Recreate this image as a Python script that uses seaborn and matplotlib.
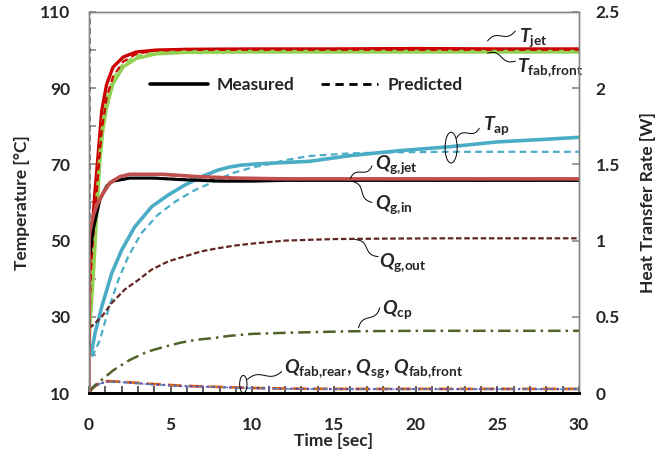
import numpy as np
import pandas as pd
import matplotlib
matplotlib.use("Agg")
import matplotlib.pyplot as plt
import seaborn as sns
from matplotlib.patches import Ellipse
from matplotlib.lines import Line2D
from matplotlib.ticker import MultipleLocator

# ---- data (time in s) ----
# temperatures [°C], left axis
t_jet_meas = [0, 0.05, 0.16, 0.35, 0.57, 0.78, 1.08, 1.47, 2.1, 2.9, 4.1, 6, 10, 15, 20, 25, 30]
T_jet_meas = [22, 40, 50, 62, 73, 84, 91, 95.5, 98.2, 99.5, 100, 100.2, 100.3, 100.3, 100.4, 100.3, 100.3]
t_jet_pred = [0, 0.05, 0.16, 0.35, 0.57, 0.78, 1.08, 1.47, 2.1, 2.9, 4.1, 6, 10, 30]
T_jet_pred = [22, 35, 45, 56, 68, 79, 87.5, 93, 97, 99, 99.9, 100.1, 100.1, 100.1]

t_fab_meas = [0, 0.05, 0.16, 0.3, 0.45, 0.67, 0.85, 1.08, 1.47, 2.1, 2.9, 4.1, 6, 10, 30]
T_fab_meas = [20, 27, 34, 43, 55, 71, 79, 85, 91.2, 95.6, 97.8, 99, 99.4, 99.5, 99.5]
t_fab_pred = [0, 0.05, 0.16, 0.3, 0.45, 0.67, 0.85, 1.08, 1.47, 2.1, 2.9, 4.1, 6, 10, 30]
T_fab_pred = [20, 30, 40, 50, 61, 75, 82, 87.5, 92.8, 96.5, 98.5, 99.4, 99.7, 99.8, 99.8]

t_ap_meas = [0.15, 0.37, 0.78, 1.39, 2.0, 2.8, 3.84, 4.86, 5.88, 6.9, 7.9, 8.6, 9.3, 10.2, 11.5, 13.5, 16, 19, 22, 25, 28, 30]
T_ap_meas = [20.5, 25.7, 32.6, 41.4, 47.5, 53.6, 58.9, 62.0, 64.6, 66.8, 68.5, 69.3, 69.8, 70.1, 70.4, 70.8, 72.3, 73.6, 74.6, 75.9, 76.6, 77.1]
t_ap_pred = [0.2, 0.67, 1.18, 1.8, 2.4, 3.2, 4.2, 5.27, 6.5, 7.9, 8.7, 10, 11.2, 12, 13.5, 16, 19, 22, 30]
T_ap_pred = [19.5, 23.9, 31.8, 39.7, 45.8, 51.9, 56.7, 60.2, 63.3, 65.9, 67.6, 69.2, 70.2, 71.1, 72.2, 72.9, 73.2, 73.3, 73.3]

# heat transfer rates [W], right axis
t_gin = [0, 0.01, 0.05, 0.25, 0.47, 0.86, 1.29, 1.9, 2.5, 4.5, 6.6, 9, 12, 30]
Q_gin = [0, 1.0, 1.05, 1.16, 1.23, 1.31, 1.38, 1.42, 1.435, 1.435, 1.42, 1.41, 1.405, 1.405]
t_gjet = [0.05, 0.25, 0.67, 1.1, 1.47, 2.5, 4, 5.6, 8, 10, 12, 15, 30]
Q_gjet = [0.9, 1.07, 1.27, 1.36, 1.39, 1.41, 1.41, 1.40, 1.39, 1.39, 1.395, 1.395, 1.395]
t_gjet_pred = [0.03, 0.03, 0.25, 0.67, 1.1, 1.47, 2.5, 4, 8, 30]
Q_gjet_pred = [2.7, 0.92, 1.07, 1.27, 1.36, 1.39, 1.41, 1.41, 1.395, 1.395]
t_gout = [0.05, 0.16, 0.78, 1.39, 2.2, 3.0, 3.84, 4.86, 5.88, 6.9, 7.9, 8.9, 9.96, 12, 15, 18, 22, 30]
Q_gout = [0.45, 0.436, 0.50, 0.59, 0.68, 0.74, 0.81, 0.864, 0.897, 0.93, 0.95, 0.967, 0.98, 1.0, 1.01, 1.013, 1.015, 1.015]
t_cp = [0, 0.25, 1.5, 2.5, 3.55, 4.5, 5.6, 6.6, 7.6, 8.6, 10, 12, 14, 16, 20, 30]
Q_cp = [0.0, 0.04, 0.15, 0.217, 0.27, 0.30, 0.33, 0.35, 0.36, 0.375, 0.388, 0.395, 0.40, 0.405, 0.408, 0.408]
t_low = [0, 0.2, 0.6, 1.1, 2, 3.5, 5.6, 7.6, 9.7, 12, 15, 30]
Q_fab_rear = [0, 0.03, 0.062, 0.078, 0.074, 0.062, 0.048, 0.041, 0.034, 0.029, 0.027, 0.027]
Q_sg = [0, 0.03, 0.06, 0.075, 0.072, 0.06, 0.046, 0.040, 0.033, 0.028, 0.026, 0.026]
Q_fab_front = [0, 0.028, 0.058, 0.073, 0.070, 0.058, 0.045, 0.039, 0.032, 0.027, 0.025, 0.025]

# ---- style ----
sns.set_theme(style="white")
plt.rcParams['font.family'] = ['Lato', 'DejaVu Sans']
plt.rcParams['font.weight'] = 'bold'
plt.rcParams['axes.labelweight'] = 'bold'
plt.rcParams['mathtext.fontset'] = 'custom'
plt.rcParams['mathtext.it'] = 'Lato:italic:bold'
plt.rcParams['mathtext.bf'] = 'Lato:bold'
plt.rcParams['mathtext.rm'] = 'Lato:bold'

fig = plt.figure(figsize=(6.64, 4.61), dpi=100)
ax = fig.add_axes([0.134, 0.1475, 0.738, 0.8265])
ax2 = ax.twinx()

def line(axis, t, v, color, ls='-', lw=2.2, z=2):
    sns.lineplot(x=t, y=v, ax=axis, color=color, linestyle=ls, lw=lw,
                 estimator=None, sort=False, zorder=z)

# temperatures
line(ax, t_fab_meas, T_fab_meas, '#92D050', lw=2.4)
line(ax, t_jet_meas, T_jet_meas, '#CC0000', lw=2.4)
line(ax, t_fab_pred, T_fab_pred, '#92D050', ls=(0, (3, 2)), lw=1.6)
line(ax, t_jet_pred, T_jet_pred, '#CC0000', ls=(0, (3, 2)), lw=1.6)
line(ax, t_ap_meas, T_ap_meas, '#4BACC6', lw=2.6)
line(ax, t_ap_pred, T_ap_pred, '#4BACC6', ls=(0, (3, 2)), lw=1.6)

# heat transfer rates
line(ax2, t_low, Q_fab_rear, '#E46C0A', ls=(0, (5, 2.5)), lw=2.0)
line(ax2, t_low, Q_sg, '#7030A0', ls=(0, (1, 1.5)), lw=1.6)
line(ax2, t_low, Q_fab_front, '#4F81BD', ls=(0, (4, 2, 1, 2)), lw=1.0)
line(ax2, t_cp, Q_cp, '#4F6228', ls=(0, (5, 2, 1, 2)), lw=1.8)
line(ax2, t_gout, Q_gout, '#632523', ls=(0, (2.5, 1.2)), lw=1.6)
line(ax2, t_gjet, Q_gjet, 'black', lw=2.2)
line(ax2, t_gjet_pred, Q_gjet_pred, 'black', ls=(0, (3, 2)), lw=1.4)
line(ax2, t_gin, Q_gin, '#C0504D', lw=2.6)

# ---- axes ----
ax.set_xlim(0, 30)
ax.set_ylim(10, 110)
ax2.set_ylim(0, 2.5)
ax.set_xticks(np.arange(0, 31, 5))
ax.xaxis.set_minor_locator(MultipleLocator(1))
ax.set_yticks(np.arange(10, 111, 20))
ax.yaxis.set_minor_locator(MultipleLocator(10))
ax2.set_yticks(np.arange(0, 2.51, 0.5))
ax2.set_yticklabels(['0', '0.5', '1', '1.5', '2', '2.5'])

ax.tick_params(axis='both', which='both', direction='in', labelsize=12.5,
               left=True, bottom=True, top=False, right=False,
               length=5, width=1.1)
ax.tick_params(axis='x', which='both', pad=17, color='#303030')
ax.tick_params(axis='y', which='both', pad=13.5, color='#7f7f7f')
ax2.tick_params(axis='y', direction='in', right=True, length=5, width=1.1,
                color='#7f7f7f', labelsize=12.5, pad=12)

for a in (ax, ax2):
    for s in ('top', 'left', 'right'):
        a.spines[s].set_color('#868686')
        a.spines[s].set_linewidth(1.0)
    a.spines['bottom'].set_color('black')
    a.spines['bottom'].set_linewidth(2.0)
    a.grid(False)

ax.set_xlabel('Time [sec]', fontsize=12.5, labelpad=0)
ax.set_ylabel('Temperature [°C]', fontsize=12.5)
ax2.set_ylabel('Heat Transfer Rate [W]', fontsize=12.5)
ax.yaxis.set_label_coords(-0.12, 0.5)
ax2.yaxis.set_label_coords(1.125, 0.5)

# legend
handles = [Line2D([], [], color='black', lw=2.6),
           Line2D([], [], color='black', lw=2.0, ls=(0, (3, 2)))]
ax.legend(handles, ['Measured', 'Predicted'], ncol=2, frameon=False,
          loc='center left', bbox_to_anchor=(0.125, 0.808), fontsize=12.5,
          handlelength=3.3, handletextpad=0.55, columnspacing=1.5,
          borderpad=0, borderaxespad=0)


# ---- annotations ----
def squiggle(axis, p0, p1, amp=2.5):
    a = axis.transData.transform(p0)
    b = axis.transData.transform(p1)
    s = np.linspace(0, 1, 60)
    d = b - a
    n = np.array([-d[1], d[0]]) / np.hypot(*d)
    pts = a + np.outer(s, d) + np.outer(amp * np.sin(2 * np.pi * s), n)
    xy = axis.transData.inverted().transform(pts)
    axis.plot(xy[:, 0], xy[:, 1], color='black', lw=0.7, clip_on=False, zorder=5)


lab = dict(fontsize=14, ha='left', va='center', clip_on=False, zorder=6)

squiggle(ax, (24.4, 102.4), (26.1, 105.0))
ax.text(26.3, 103.4, r'$T_{\mathbf{jet}}$', **lab)
squiggle(ax, (24.4, 99.2), (26.1, 97.1))
ax.text(26.2, 95.3, r'$T_{\mathbf{fab{,}front}}$', **lab)

ax.add_patch(Ellipse((22.17, 74.4), 0.74, 8.1, fill=False, lw=0.7, color='black', zorder=5))
squiggle(ax, (22.5, 76.9), (23.9, 79.5))
ax.text(24.1, 80.3, r'$T_{\mathbf{ap}}$', **lab)

squiggle(ax2, (16.0, 1.408), (17.33, 1.49))
ax2.text(17.5, 1.50, r'$Q_{\mathbf{g{,}jet}}$', **lab)
squiggle(ax2, (16.1, 1.39), (17.33, 1.25))
ax2.text(17.5, 1.237, r'$Q_{\mathbf{g{,}in}}$', **lab)
squiggle(ax2, (16.3, 1.007), (17.7, 0.895))
ax2.text(17.75, 0.855, r'$Q_{\mathbf{g{,}out}}$', **lab)
squiggle(ax2, (16.5, 0.428), (17.8, 0.56))
ax2.text(17.95, 0.546, r'$Q_{\mathbf{cp}}$', **lab)

ax2.add_patch(Ellipse((9.45, 0.058), 0.45, 0.115, fill=False, lw=0.7, color='black', zorder=5))
squiggle(ax2, (9.7, 0.09), (11.8, 0.14))
ax2.text(11.95, 0.163, r'$Q_{\mathbf{fab{,}rear}}$, $Q_{\mathbf{sg}}$, $Q_{\mathbf{fab{,}front}}$', **lab)

fig.savefig('out.png', dpi=100)
